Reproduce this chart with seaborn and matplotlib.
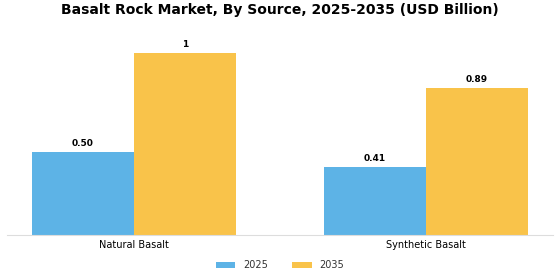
import pandas as pd
import matplotlib
matplotlib.use('Agg')
import matplotlib.pyplot as plt
import seaborn as sns

# chart data
sources = ['Natural Basalt', 'Synthetic Basalt']
years = ['2025', '2035']
values_2025 = [0.50, 0.41]
values_2035 = [1.10, 0.89]
labels_2025 = ['0.50', '0.41']
labels_2035 = ['1', '0.89']

df = pd.DataFrame({
    'source': sources * 2,
    'year': [years[0]] * 2 + [years[1]] * 2,
    'value': values_2025 + values_2035,
})

sns.set_style('white')
plt.rcParams['font.family'] = ['DejaVu Sans']
plt.rcParams['text.color'] = 'black'
plt.rcParams['xtick.color'] = 'black'

fig = plt.figure(figsize=(5.6, 2.8), dpi=100)
ax = fig.add_axes([0.0125, 0.161, 0.975, 0.732])

palette = {'2025': '#5DB3E6', '2035': '#F9C34A'}
sns.barplot(data=df, x='source', y='value', hue='year', palette=palette,
            width=0.7, saturation=1, linewidth=0, ax=ax)

for cont, labs in zip(ax.containers, [labels_2025, labels_2035]):
    ax.bar_label(cont, labels=labs, padding=3, fontsize=6.5, fontweight='bold')

ax.set_xlim(-0.435, 1.435)
ax.set_ylim(0, 1.24)
ax.set_xlabel('')
ax.set_ylabel('')
ax.set_yticks([])
for s in ['top', 'right', 'left']:
    ax.spines[s].set_visible(False)
ax.spines['bottom'].set_color('#dddddd')
ax.tick_params(axis='x', length=3, color='#aaaaaa', labelsize=7, pad=1)

leg = ax.legend(loc='upper center', bbox_to_anchor=(0.5, -0.08), ncol=2, frameon=False,
                fontsize=7, handlelength=2, handleheight=0.6, columnspacing=2.5)
for t in leg.get_texts():
    t.set_color('#333333')

fig.suptitle('Basalt Rock Market, By Source, 2025-2035 (USD Billion)',
             fontsize=10, fontweight='bold', y=0.988)

fig.savefig('out.png', dpi=100)
